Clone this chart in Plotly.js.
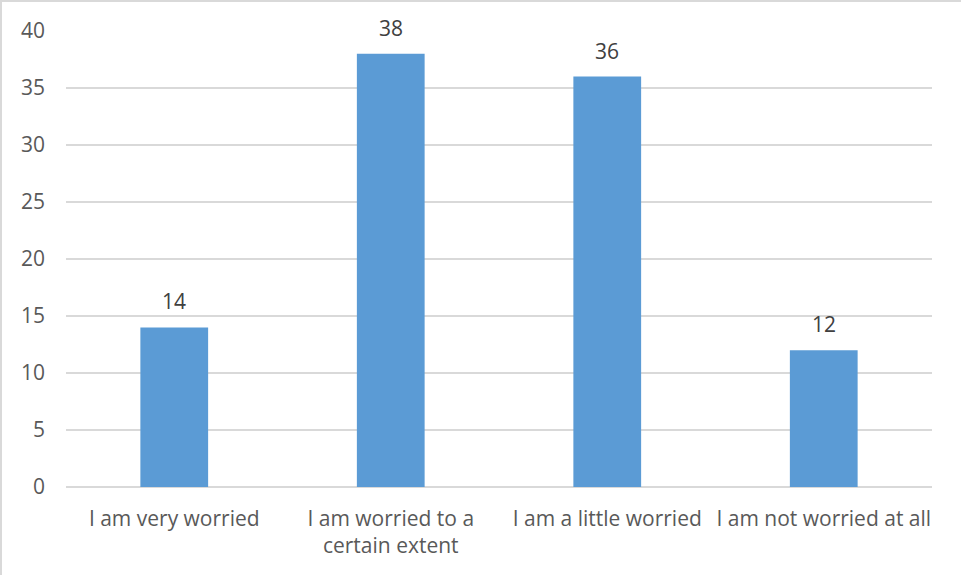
<!DOCTYPE html>
<html>
<head>
<meta charset="utf-8">
<script src="https://cdn.plot.ly/plotly-3.0.1.min.js"></script>
<style>
  html, body { margin: 0; padding: 0; background: #fff; }
  #chart { width: 961px; height: 575px; box-sizing: border-box; border-top: 2px solid #d9d9d9; border-left: 2px solid #d9d9d9; }
</style>
</head>
<body>
<div id="chart"></div>
<script>
// Survey responses: level of worry
const categories = [
  'I am very worried',
  'I am worried to a<br>certain extent',
  'I am a little worried',
  'I am not worried at all'
];
const counts = [14, 38, 36, 12];
const yTicks = [0, 5, 10, 15, 20, 25, 30, 35, 40];

const textFont = { family: '"Open Sans", sans-serif', size: 21, color: '#595959' };

const trace = {
  type: 'bar',
  x: categories,
  y: counts,
  marker: { color: '#5b9bd5' },
  width: 0.313,
  hoverinfo: 'x+y'
};

// value labels sit a little above each bar
const labels = categories.map((c, i) => ({
  x: c,
  y: counts[i],
  text: String(counts[i]),
  showarrow: false,
  yanchor: 'bottom',
  yshift: 10,
  font: { family: textFont.family, size: 21, color: '#404040' }
}));

const layout = {
  width: 959,
  height: 573,
  margin: { l: 63.5, r: 28.5, t: 29, b: 88 },
  paper_bgcolor: '#ffffff',
  plot_bgcolor: '#ffffff',
  showlegend: false,
  font: textFont,
  xaxis: {
    type: 'category',
    showgrid: false,
    showline: false,
    zeroline: false,
    ticks: '',
    tickfont: textFont,
    ticklabelstandoff: 17
  },
  yaxis: {
    range: [0, 40],
    tickvals: yTicks,
    ticktext: yTicks.map(String),
    showgrid: true,
    gridcolor: '#d9d9d9',
    gridwidth: 1.3,
    zeroline: true,
    zerolinecolor: '#d9d9d9',
    zerolinewidth: 1.5,
    showline: false,
    ticks: '',
    tickfont: textFont,
    ticklabelstandoff: 20
  },
  annotations: labels
};

Plotly.newPlot('chart', [trace], layout, { displayModeBar: false, staticPlot: true });
</script>
</body>
</html>
